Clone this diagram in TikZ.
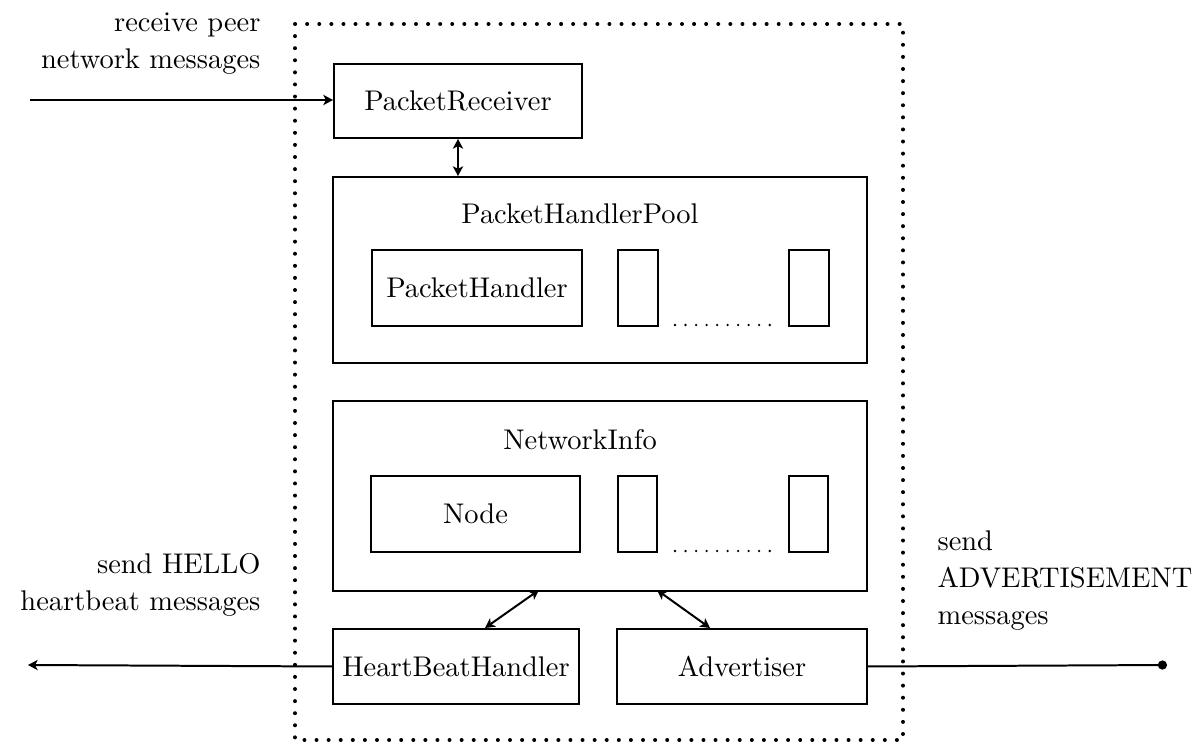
\documentclass[tikz,border=0pt]{standalone}
\usetikzlibrary{arrows.meta}
\tikzset{hd/.tip={Stealth[length=3.4pt,width=3.6pt,inset=0.9pt]}}
\begin{document}
\begin{tikzpicture}[x=0.3515pt,y=-0.3515pt,
  wh/.style 2 args={minimum width={(#1)*0.3515pt},minimum height={(#2)*0.3515pt},anchor=north west},
  box/.style={draw,line width=0.7pt,inner sep=0pt},
  link/.style={line width=0.7pt},
  boundary/.style={line width=1.4pt,line cap=round,dash pattern=on 0pt off 4.25pt},
  ellip/.style={line width=0.9pt,line cap=round,dash pattern=on 0pt off 3.7pt},
  lbl/.style={align=right,anchor=east,inner sep=0pt},
  rlbl/.style={align=left,anchor=west,inner sep=0pt}]
\useasboundingbox (0,0) rectangle (1201,744);

% dotted boundary of the component
\draw[boundary] (295,24) rectangle (903,740);

% receiver
\node[box,wh={248}{74}] (pr) at (333,63) {PacketReceiver};

% handler pool
\node[box,wh={534}{186}] (php) at (332,176) {};
\node (phpt) at (580,214) {PacketHandlerPool};
\node[box,wh={210}{76}] (ph) at (371,249) {PacketHandler};
\node[box,wh={40}{76}] (ph2) at (617,249) {};
\node[box,wh={40}{76}] (ph3) at (788,249) {};
\draw[ellip] (675,325) -- (770,325);

% network info
\node[box,wh={534}{190}] (ni) at (332,400) {};
\node (nit) at (580,440) {NetworkInfo};
\node[box,wh={209}{76}] (nd) at (370,475) {Node};
\node[box,wh={39}{76}] (nd2) at (617,475) {};
\node[box,wh={39}{76}] (nd3) at (788,475) {};
\draw[ellip] (675,551) -- (770,551);

% bottom row
\node[box,wh={246}{75}] (hb) at (332,628) {HeartBeatHandler};
\node[box,wh={250}{75}] (adv) at (616,628) {Advertiser};

% outside ends
\coordinate (inS) at (30,100);
\coordinate (helloE) at (28,665);
\coordinate (advE) at (1167,665);

% labels
\node[lbl] (l1) at (261,44) {receive peer\\[1pt]network messages};
\node[lbl] (l2) at (261,585) {send HELLO\\[1pt]heartbeat messages};
\node[rlbl] (l3) at (937,581) {send\\[1pt]ADVERTISEMENT\\[1pt]messages};

% connectors
\draw[link,-hd] (inS) -- (inS -| pr.west);
\draw[link,hd-hd] (pr.south) -- (php.north -| pr.south);
\draw[link,hd-hd] (539,590) -- (485,628);
\draw[link,hd-hd] (657,590) -- (710,628);
\draw[link,-hd] (hb.west) -- (helloE);
\draw[link,-{Circle[length=3.2pt]}] (adv.east) -- (advE);
\end{tikzpicture}
\end{document}
